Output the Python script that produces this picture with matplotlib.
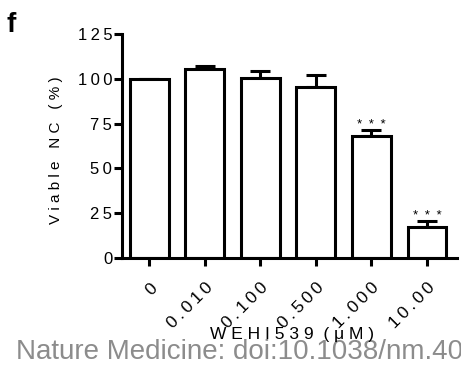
import matplotlib
matplotlib.use("Agg")
import matplotlib.pyplot as plt
import numpy as np

categories = ["0", "0.010", "0.100", "0.500", "1.000", "10.00"]
values = [100.0, 105.5, 100.4, 95.3, 68.2, 17.1]
errors = [0.0, 1.5, 4.1, 6.7, 3.3, 3.4]
significance = ["", "", "", "", "***", "***"]
yticks = [0, 25, 50, 75, 100, 125]

plt.rcParams['font.family'] = ['Liberation Sans', 'DejaVu Sans']

def spaced(s, sep="\u2009"):
    return sep.join(s)

fig = plt.figure(figsize=(4.61, 3.67), dpi=100)
ax = fig.add_axes([122/461, 1-258/367, (457-122)/461, (258-34)/367])

x = np.arange(len(categories))
lw = 2.2
ax.bar(x, values, width=0.7, color='white', edgecolor='black', linewidth=lw, zorder=2)
ax.errorbar(x, values, yerr=[np.zeros(len(errors)), errors], fmt='none', ecolor='black',
            elinewidth=lw, capsize=7, capthick=lw, zorder=1)
for xi, v, e, s in zip(x, values, errors, significance):
    if s:
        ax.text(xi, v + e + 2.8, spaced(s, "\u2002"), ha='center', va='center', fontsize=9.5)

ax.set_xlim(-0.49, 5.54)
ax.set_ylim(0, 125)
ax.set_yticks(yticks)
ax.set_yticklabels([spaced(str(t)) for t in yticks], fontsize=12)
ax.set_xticks(x)
ax.set_xticklabels([spaced(c) for c in categories], rotation=45, ha='right',
                   rotation_mode='anchor', fontsize=12.5)
for sp in ['top', 'right']:
    ax.spines[sp].set_visible(False)
for sp in ['left', 'bottom']:
    ax.spines[sp].set_linewidth(lw)
ax.tick_params(axis='both', width=lw, length=6, direction='out', colors='black')
ax.tick_params(axis='x', pad=10)
ax.tick_params(axis='y', pad=1)
ax.set_ylabel(spaced("Viable NC (%)", " "), fontsize=11)
ax.yaxis.set_label_coords((63 - 122) / (457 - 122), (258 - 150) / (258 - 34))

fig.text(16/461, 1-352/367, "Nature Medicine: doi:10.1038/nm.4016", fontsize=20,
         color='#8c8c8c', va='center', ha='left', zorder=1)
fig.text(292/461, 1-334/367, "W E H I 5 3 9  ( \u03bc M )", fontsize=12.5,
         ha='center', va='center', zorder=5)

fig.text(6/461, 1-25/367, "f", fontsize=20, fontweight='bold', va='center', ha='left')

fig.savefig("out.png", dpi=100)
